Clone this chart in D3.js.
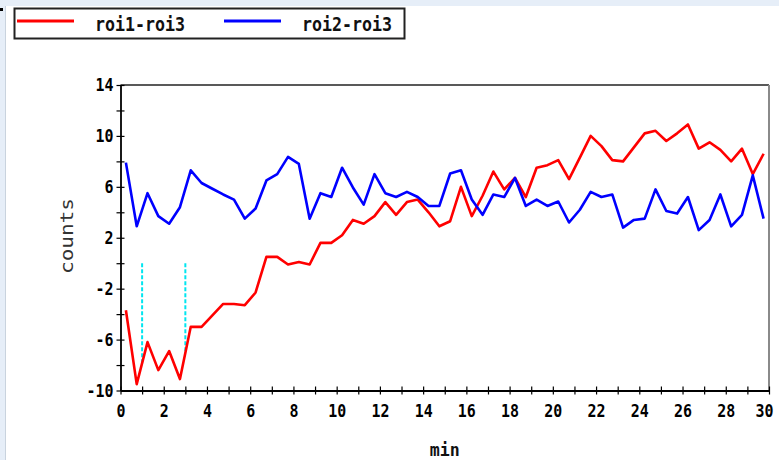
<!DOCTYPE html>
<html>
<head>
<meta charset="utf-8">
<script src="https://cdn.jsdelivr.net/npm/d3@7"></script>
<style>
  body { margin: 0; background: #fff; }
  svg { display: block; }
  text { font-family: "DejaVu Sans Mono", monospace; }
</style>
</head>
<body>
<svg id="chart" width="779" height="460"></svg>
<script>
// sample times (min)
const times = [0.25, 0.75, 1.25, 1.75, 2.25, 2.75, 3.25, 3.75, 4.25, 4.75,
  5.25, 5.75, 6.25, 6.75, 7.25, 7.75, 8.25, 8.75, 9.25, 9.75,
  10.25, 10.75, 11.25, 11.75, 12.25, 12.75, 13.25, 13.75, 14.25, 14.75,
  15.25, 15.75, 16.25, 16.75, 17.25, 17.75, 18.25, 18.75, 19.25, 19.75,
  20.25, 20.75, 21.25, 21.75, 22.25, 22.75, 23.25, 23.75, 24.25, 24.75,
  25.25, 25.75, 26.25, 26.75, 27.25, 27.75, 28.25, 28.75, 29.25, 29.75];

const roi1 = [-3.7, -9.5, -6.2, -8.4, -6.9, -9.1, -5.0, -5.0, -4.1, -3.2,
  -3.2, -3.3, -2.3, 0.5, 0.5, -0.1, 0.1, -0.1, 1.6, 1.6,
  2.2, 3.4, 3.1, 3.7, 4.8, 3.8, 4.8, 5.0, 4.0, 2.9,
  3.3, 6.0, 3.7, 5.3, 7.2, 5.8, 6.7, 5.2, 7.5, 7.7,
  8.1, 6.6, 8.3, 10.0, 9.2, 8.1, 8.0, 9.1, 10.2, 10.4,
  9.6, 10.2, 10.9, 9.0, 9.5, 8.9, 8.0, 9.0, 7.0, 8.6];

const roi2 = [7.9, 2.9, 5.5, 3.7, 3.1, 4.4, 7.3, 6.3, 5.85, 5.4,
  5.0, 3.5, 4.3, 6.5, 7.0, 8.35, 7.8, 3.5, 5.5, 5.2,
  7.5, 5.95, 4.6, 7.0, 5.5, 5.2, 5.6, 5.2, 4.5, 4.5,
  7.05, 7.3, 5.0, 3.8, 5.4, 5.2, 6.7, 4.5, 5.0, 4.5,
  4.85, 3.2, 4.2, 5.6, 5.2, 5.4, 2.8, 3.4, 3.5, 5.8,
  4.1, 3.9, 5.2, 2.6, 3.4, 5.4, 2.9, 3.8, 6.9, 3.5];

const seriesNames = ["roi1-roi3", "roi2-roi3"];
const seriesColors = ["#ff0000", "#0000ff"];

// dashed markers drop from 0 to the roi1 curve
const markerTimes = [1, 3];

const xTicks = d3.range(0, 31, 1);
const xTickLabels = [0, 2, 4, 6, 8, 10, 12, 14, 16, 18, 20, 22, 24, 26, 28, 30];
const yTicks = d3.range(-10, 15, 2);
const yTickLabels = [14, 10, 6, 2, -2, -6, -10];

const svg = d3.select("#chart");

// window frame bits
svg.append("rect").attr("width", 779).attr("height", 460).attr("fill", "#e6eef8");
svg.append("rect").attr("x", 6).attr("y", 6).attr("width", 773).attr("height", 454).attr("fill", "#fff");
svg.append("line").attr("x1", 5.5).attr("x2", 5.5).attr("y1", 6).attr("y2", 460)
  .attr("stroke", "#c9d3de").attr("stroke-width", 1);
svg.append("rect").attr("x", 0).attr("y", 8).attr("width", 3).attr("height", 3).attr("fill", "#000");

const x = d3.scaleLinear().domain([0, 30]).range([120.5, 769]);
const y = d3.scaleLinear().domain([-10, 14]).range([390.5, 85]);

// plot frame (top + right)
svg.append("line")
  .attr("x1", x(0)).attr("x2", x(30)).attr("y1", y(14)).attr("y2", y(14))
  .attr("stroke", "#222").attr("stroke-width", 1.6);
svg.append("line")
  .attr("x1", x(30)).attr("x2", x(30)).attr("y1", y(14)).attr("y2", y(-10))
  .attr("stroke", "#8a8a8a").attr("stroke-width", 2);

let styleAxis = (g) => {
  g.select(".domain").attr("stroke", "#000").attr("stroke-width", 1.8);
  g.selectAll(".tick line").attr("stroke", "#000").attr("stroke-width", 1.2);
  g.selectAll(".tick text")
    .attr("fill", "#000")
    .style("font-size", "18px")
    .style("font-weight", "bold")
    .attr("lengthAdjust", "spacingAndGlyphs")
    .each(function () {
      let n = this.textContent.length;
      if (n) d3.select(this).attr("textLength", n * 9);
    });
};

const xAxis = svg.append("g")
  .attr("transform", `translate(0,${y(-10)})`)
  .call(d3.axisBottom(x)
    .tickValues(xTicks)
    .tickSize(4)
    .tickSizeOuter(0)
    .tickPadding(10)
    .tickFormat(d => xTickLabels.includes(d) ? d3.format("d")(d) : ""));
xAxis.selectAll(".tick line").attr("y1", -4);
styleAxis(xAxis);
// keep the last label inside the window
xAxis.selectAll(".tick text").filter(d => d === 30).attr("dx", -5);

const yAxis = svg.append("g")
  .attr("transform", `translate(${x(0)},0)`)
  .call(d3.axisLeft(y)
    .tickValues(yTicks)
    .tickSize(4)
    .tickSizeOuter(0)
    .tickPadding(3)
    .tickFormat(d => yTickLabels.includes(d) ? String(d) : ""));
yAxis.selectAll(".tick line").attr("x1", 4);
styleAxis(yAxis);

// axis titles
svg.append("text")
  .attr("transform", `translate(73,236) rotate(-90)`)
  .attr("text-anchor", "middle")
  .attr("textLength", 76)
  .attr("lengthAdjust", "spacingAndGlyphs")
  .style("font-size", "18px")
  .attr("fill", "#333")
  .text("counts");

svg.append("text")
  .attr("x", (x(0) + x(30)) / 2)
  .attr("y", 456)
  .attr("text-anchor", "middle")
  .attr("textLength", 30)
  .attr("lengthAdjust", "spacingAndGlyphs")
  .style("font-size", "18px")
  .style("font-weight", "bold")
  .attr("fill", "#111")
  .text("min");

// cyan dashed markers
const interpRoi1 = (t) => {
  let i = d3.bisectLeft(times, t);
  let t0 = times[i - 1], t1 = times[i];
  return roi1[i - 1] + (roi1[i] - roi1[i - 1]) * (t - t0) / (t1 - t0);
};
svg.append("g").selectAll("line")
  .data(markerTimes)
  .enter()
  .append("line")
    .attr("x1", d => x(d)).attr("x2", d => x(d))
    .attr("y1", y(0)).attr("y2", d => y(interpRoi1(d)))
    .attr("stroke", "#00e6f0")
    .attr("stroke-width", 2)
    .attr("stroke-dasharray", "4,2");

// series lines
const line = d3.line()
  .x((d, i) => x(times[i]))
  .y(d => y(d));

svg.append("g").selectAll("path")
  .data([roi1, roi2])
  .enter()
  .append("path")
    .attr("d", line)
    .attr("fill", "none")
    .attr("stroke", (d, i) => seriesColors[i])
    .attr("stroke-width", 2.6)
    .attr("stroke-linejoin", "round");

// legend
const legend = svg.append("g");
legend.append("rect")
  .attr("x", 14.5).attr("y", 8.5).attr("width", 390).attr("height", 30)
  .attr("fill", "#fff").attr("stroke", "#222").attr("stroke-width", 2);

const legendX = [17, 224];
seriesNames.forEach((name, i) => {
  legend.append("line")
    .attr("x1", legendX[i]).attr("x2", legendX[i] + 57)
    .attr("y1", 21).attr("y2", 21)
    .attr("stroke", seriesColors[i]).attr("stroke-width", 3);
  legend.append("text")
    .attr("x", legendX[i] + 78).attr("y", 31)
    .attr("textLength", 90)
    .attr("lengthAdjust", "spacingAndGlyphs")
    .style("font-size", "20px")
    .style("font-weight", "bold")
    .attr("fill", "#111")
    .text(name);
});
</script>
</body>
</html>
